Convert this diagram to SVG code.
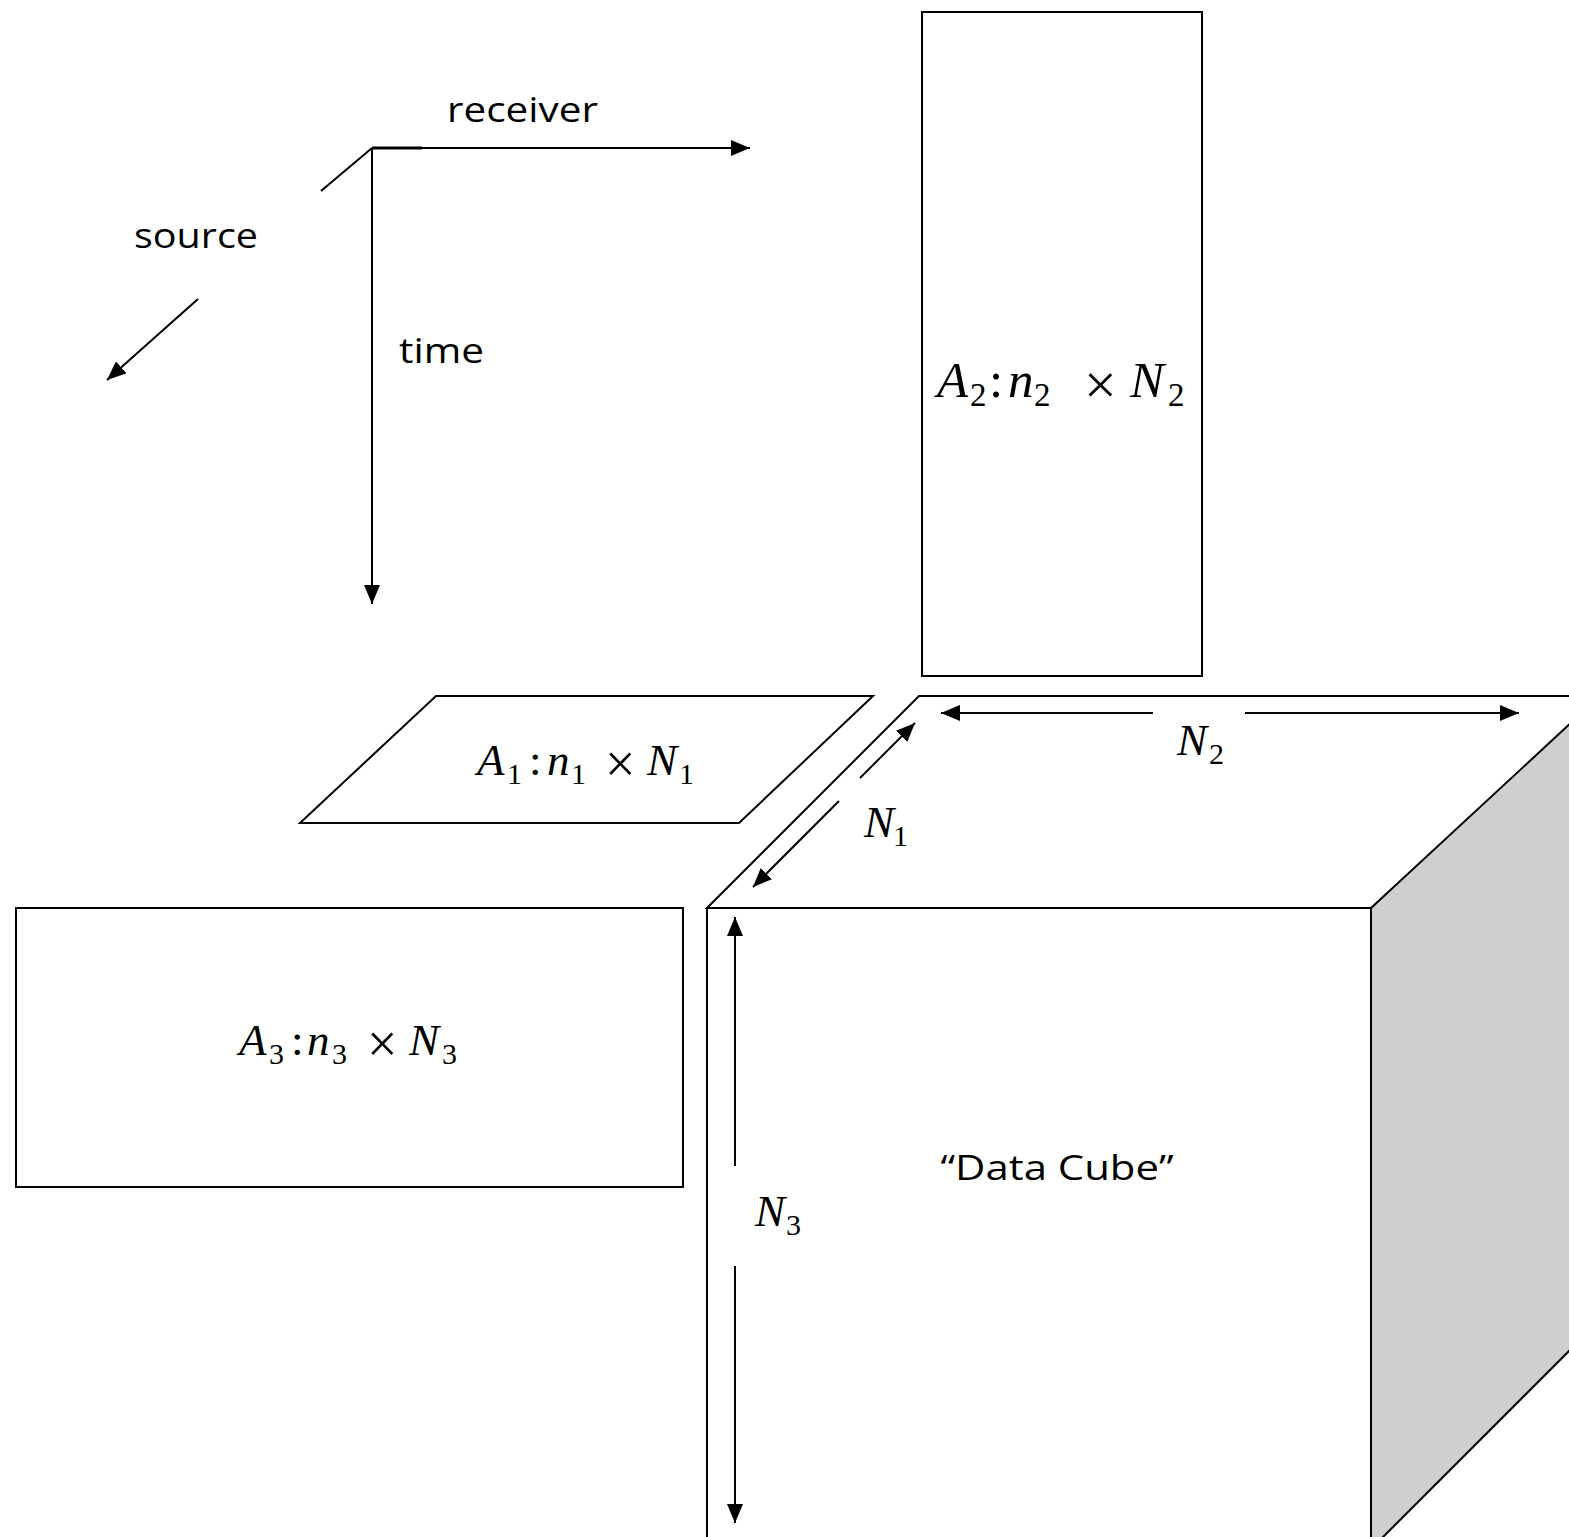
<svg xmlns="http://www.w3.org/2000/svg" width="1569" height="1537" viewBox="0 0 1569 1537">
<style>
.s{fill:none;stroke:#000;stroke-width:2}
.f{fill:#fff;stroke:#000;stroke-width:2}
.t{font-family:"Open Sans","Liberation Sans",sans-serif;font-size:35px;fill:#000}
.m{font-family:"Liberation Serif",serif;font-size:45px;fill:#000}
.m2{font-size:51px}
.i{font-style:italic}
.sb{font-size:30px}
.m2 .sb{font-size:33px}
.x{font-size:54px}
.m2 .x{font-size:58px}
</style>
<defs>
<marker id="ah2" viewBox="0 0 10 10" refX="10" refY="5" markerWidth="19" markerHeight="16" markerUnits="userSpaceOnUse" orient="auto" preserveAspectRatio="none">
<path d="M0,0 L10,5 L0,10 z" fill="#000"/>
</marker>
</defs>
<rect width="1569" height="1537" fill="#fff"/>
<g id="cube">
<polygon points="1371,908 1600,679 1600,1320 1371,1549" fill="#cfcfcf" stroke="#000" stroke-width="2"/>
<polygon points="707,908 919,696 1600,696 1371,908" class="f"/>
<rect x="707" y="908" width="664" height="650" class="f"/>
<text x="1057" y="1180" class="t" text-anchor="middle" textLength="233" lengthAdjust="spacingAndGlyphs">“Data Cube”</text>
</g>
<g id="A2">
<rect x="922" y="12" width="280" height="664" class="f"/>
<text y="397" class="m m2"><tspan class="i" x="937">A</tspan><tspan class="sb" x="970" y="406">2</tspan><tspan x="989" y="397">:</tspan><tspan class="i" x="1008">n</tspan><tspan class="sb" x="1034" y="406">2</tspan><tspan class="x" x="1084" y="404">×</tspan><tspan class="i" x="1130" y="397">N</tspan><tspan class="sb" x="1168" y="406">2</tspan></text>
</g>
<g id="A1">
<polygon points="436,696 873,696 739,823 300,823" class="f"/>
<text y="775" class="m"><tspan class="i" x="477">A</tspan><tspan class="sb" x="507" y="784">1</tspan><tspan x="529" y="775">:</tspan><tspan class="i" x="547">n</tspan><tspan class="sb" x="571" y="784">1</tspan><tspan class="x" x="605" y="782">×</tspan><tspan class="i" x="647" y="775">N</tspan><tspan class="sb" x="679" y="784">1</tspan></text>
</g>
<g id="A3">
<polygon points="16,908 683,908 683,1187 16,1187" class="f"/>
<text y="1055" class="m"><tspan class="i" x="239">A</tspan><tspan class="sb" x="269" y="1064">3</tspan><tspan x="291" y="1055">:</tspan><tspan class="i" x="307">n</tspan><tspan class="sb" x="332" y="1064">3</tspan><tspan class="x" x="367" y="1062">×</tspan><tspan class="i" x="409" y="1055">N</tspan><tspan class="sb" x="442" y="1064">3</tspan></text>
</g>
<g id="axes">
<text x="447" y="122" class="t" textLength="151" lengthAdjust="spacingAndGlyphs">receiver</text>
<text x="134" y="248" class="t" textLength="124" lengthAdjust="spacingAndGlyphs">source</text>
<text x="399" y="363" class="t" textLength="85" lengthAdjust="spacingAndGlyphs">time</text>
</g>
<g id="connectors">
<line x1="372" y1="148" x2="750" y2="148" class="s" marker-end="url(#ah2)"/>
<line x1="372" y1="148" x2="422" y2="148" stroke="#000" stroke-width="3"/>
<line x1="372" y1="148" x2="372" y2="604" class="s" marker-end="url(#ah2)"/>
<line x1="372" y1="148" x2="321" y2="191" class="s"/>
<line x1="198" y1="299" x2="107" y2="380" class="s" marker-end="url(#ah2)"/>
<line x1="1153" y1="713" x2="941" y2="713" class="s" marker-end="url(#ah2)"/>
<line x1="1245" y1="713" x2="1519" y2="713" class="s" marker-end="url(#ah2)"/>
<line x1="860" y1="778" x2="915" y2="723" class="s" marker-end="url(#ah2)"/>
<line x1="839" y1="801" x2="753" y2="887" class="s" marker-end="url(#ah2)"/>
<line x1="735" y1="1166" x2="735" y2="917" class="s" marker-end="url(#ah2)"/>
<line x1="735" y1="1266" x2="735" y2="1523" class="s" marker-end="url(#ah2)"/>
</g>
<g id="labels">
<text y="755" class="m"><tspan class="i" x="1177">N</tspan><tspan class="sb" x="1209" y="764">2</tspan></text>
<text y="837" class="m"><tspan class="i" x="864">N</tspan><tspan class="sb" x="893" y="846">1</tspan></text>
<text y="1226" class="m"><tspan class="i" x="755">N</tspan><tspan class="sb" x="786" y="1235">3</tspan></text>
</g>
</svg>
